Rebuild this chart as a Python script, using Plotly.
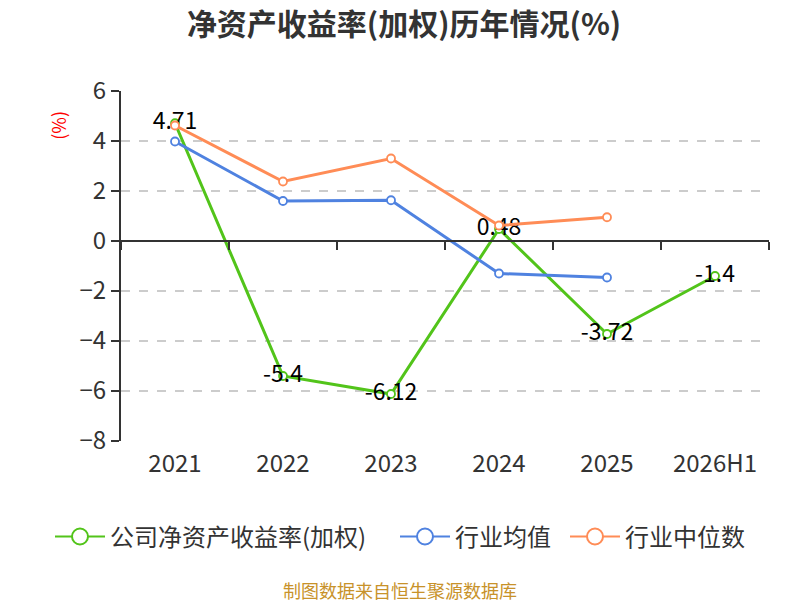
import plotly.graph_objects as go

categories = ["2021", "2022", "2023", "2024", "2025", "2026H1"]
company_roe = [4.71, -5.4, -6.12, 0.48, -3.72, -1.4]
industry_mean = [3.98, 1.6, 1.63, -1.3, -1.46, None]
industry_median = [4.62, 2.38, 3.3, 0.62, 0.95, None]
labels_company = [str(v) for v in company_roe]
y_ticks = [6, 4, 2, 0, -2, -4, -6, -8]

FONT = "Noto Sans CJK SC"
GREEN = "#52C41A"
BLUE = "#4F82E0"
ORANGE = "#FF8C56"

fig = go.Figure()

def add_series(name, vals, color, legend_id, text=None):
    fig.add_trace(go.Scatter(
        x=categories, y=vals, name=name, showlegend=False,
        mode="lines+markers+text" if text else "lines+markers",
        text=text, textposition="middle center",
        textfont=dict(size=23, color="#000000", family=FONT),
        line=dict(color=color, width=3),
        marker=dict(symbol="circle", size=8, color="#ffffff",
                    line=dict(color=color, width=1.8)),
        connectgaps=False, cliponaxis=False,
    ))
    # legend entry with larger symbol
    fig.add_trace(go.Scatter(
        x=[None], y=[None], name=name, mode="lines+markers", legend=legend_id,
        line=dict(color=color, width=2),
        marker=dict(symbol="circle", size=17, color="#ffffff",
                    line=dict(color=color, width=2)),
        hoverinfo="skip",
    ))

add_series("公司净资产收益率(加权)", company_roe, GREEN, "legend", labels_company)
add_series("行业均值", industry_mean, BLUE, "legend2")
add_series("行业中位数", industry_median, ORANGE, "legend3")

# dummy trace for the zero-line axis with boundary ticks
fig.add_trace(go.Scatter(x=categories, y=[0] * len(categories), xaxis="x2",
                         mode="markers", marker=dict(opacity=0),
                         showlegend=False, hoverinfo="skip"))

ymin, ymax = -8, 6
W = 792
PLOT_L, PLOT_W = 113, 648
legend_common = dict(orientation="h", xref="container", xanchor="left",
                     y=-0.274, yanchor="middle",
                     font=dict(size=24, color="#333333"), itemwidth=50,
                     bgcolor="rgba(0,0,0,0)")
fig.update_layout(
    width=W, height=592,
    paper_bgcolor="#ffffff", plot_bgcolor="#ffffff",
    font=dict(family=FONT, color="#333333"),
    margin=dict(l=PLOT_L, r=W - PLOT_L - PLOT_W, t=83, b=159, autoexpand=False),
    title=dict(text="<b>净资产收益率(加权)历年情况(%)</b>", x=0.5, xanchor="center",
               xref="container", y=0.972, yanchor="middle",
               font=dict(size=30, color="#333333", family=FONT)),
    xaxis=dict(type="category", categoryarray=categories, range=[-0.5, 5.5],
               showline=False, ticks="", showgrid=False, zeroline=False,
               tickfont=dict(size=24, color="#333333"), ticklabelstandoff=6),
    xaxis2=dict(type="category", categoryarray=categories, range=[-0.5, 5.5],
                overlaying="x", anchor="free", position=(0 - ymin) / (ymax - ymin),
                showline=True, linecolor="#333333", linewidth=2,
                ticks="outside", ticklen=8, tickwidth=2, tickcolor="#333333",
                tickson="boundaries", showticklabels=False, showgrid=False, zeroline=False),
    yaxis=dict(range=[ymin, ymax], tickvals=y_ticks, showline=True, linecolor="#333333",
               linewidth=2, ticks="outside", ticklen=8, tickwidth=2, tickcolor="#333333",
               showgrid=True, gridcolor="#cccccc", griddash="dash", gridwidth=1.5,
               zeroline=False, tickfont=dict(size=24, color="#333333")),
    legend=dict(legend_common, x=42 / W),
    legend2=dict(legend_common, x=387 / W),
    legend3=dict(legend_common, x=557 / W),
    showlegend=True,
)

fig.add_annotation(text="(%)", xref="paper", yref="paper", x=-0.0965, y=0.902,
                   xanchor="center", yanchor="middle",
                   showarrow=False, textangle=-90,
                   font=dict(size=18, color="#ff0000", family=FONT))
fig.add_annotation(text="制图数据来自恒生聚源数据库", xref="paper", yref="paper",
                   x=(392 - PLOT_L) / PLOT_W, y=-0.427, xanchor="center", yanchor="middle",
                   showarrow=False,
                   font=dict(size=18, color="#C8922A", family=FONT))

fig.write_html("out.html")
